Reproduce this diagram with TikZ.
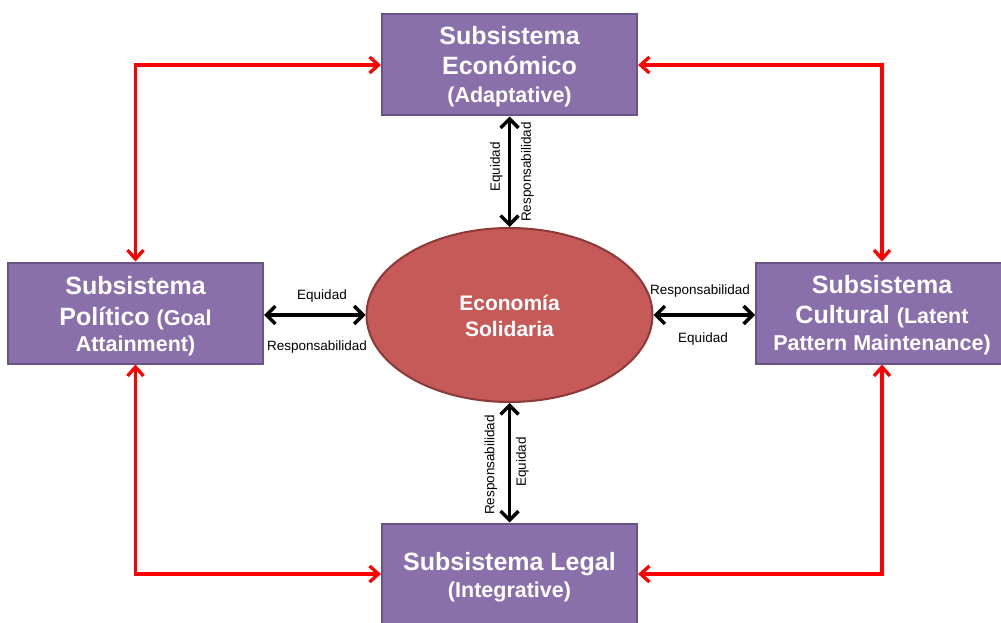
\documentclass[tikz,border=0pt]{standalone}
\usepackage{fontspec}
\setmainfont{Liberation Sans}
\usetikzlibrary{arrows.meta,shapes.geometric}
\definecolor{boxfill}{HTML}{8A70AA}
\definecolor{boxline}{HTML}{6A5386}
\definecolor{ellfill}{HTML}{C55A58}
\definecolor{ellline}{HTML}{8C3A38}
\definecolor{arrred}{HTML}{FF0000}
\begin{document}
\begin{tikzpicture}[x=1pt,y=-1pt,
  subbox/.style={draw=boxline, fill=boxfill, line width=2pt, minimum width=255pt, minimum height=101pt, inner sep=0pt},
  ellbox/.style={ellipse, draw=ellline, fill=ellfill, line width=2pt, minimum width=286pt, minimum height=174pt, inner sep=0pt},
  bigt/.style={text=white, font=\fontsize{25}{30}\selectfont\bfseries, anchor=base, inner sep=0pt},
  smallt/.style={text=white, font=\fontsize{21.5}{26}\selectfont\bfseries, anchor=base, inner sep=0pt},
  ellt/.style={text=white, font=\fontsize{21}{25}\selectfont\bfseries, anchor=base, inner sep=0pt},
  lbl/.style={font=\fontsize{13.5}{16}\selectfont, inner sep=0pt, anchor=base},
  vlbl/.style={font=\fontsize{13.5}{16}\selectfont, inner sep=0pt, anchor=center, rotate=90},
  blk/.style={draw=black, line width=3.5pt, {Straight Barb[length=9pt,width=18pt]}-{Straight Barb[length=9pt,width=18pt]}},
  redarr/.style={draw=arrred, line width=3.3pt, {Straight Barb[length=9pt,width=16pt]}-{Straight Barb[length=9pt,width=16pt]}}
]
\useasboundingbox (0,0) rectangle (1001,623);
\clip (0,0) rectangle (1001,623);

% boxes
\node[subbox] (eco) at (509.5,65) {};
\node[subbox] (pol) at (135.5,313) {};
\node[subbox, minimum width=252pt] (cul) at (882,313) {};
\node[subbox] (leg) at (509.5,574) {};
\node[ellbox] (eso) at (509.5,315) {};

% red connectors
\draw[redarr] (eco.west) -| (pol.north);
\draw[redarr] (eco.east) -| (cul.north);
\draw[redarr] (pol.south) |- (leg.west);
\draw[redarr] (cul.south) |- (leg.east);

% black connectors
\draw[blk] (eco.south) -- (eso.north);
\draw[blk] (eso.south) -- (leg.north);
\draw[blk] (pol.east |- eso.west) -- (eso.west);
\draw[blk] (eso.east) -- (cul.west |- eso.east);

% box texts
\node[bigt] (eco1) at (509.5,45) {Subsistema};
\node[bigt] (eco2) at (509.5,75) {Económico};
\node[smallt] (eco3) at (509.5,103) {(Adaptative)};

\node[bigt] (pol1) at (135.5,294) {Subsistema};
\node[bigt] (pol2) at (135.5,325) {Político {\fontsize{21.5}{26}\selectfont (Goal}};
\node[smallt] (pol3) at (135.5,351) {Attainment)};

\node[bigt] (cul1) at (882,293) {Subsistema};
\node[bigt] (cul2) at (882,323) {Cultural {\fontsize{21.5}{26}\selectfont (Latent}};
\node[smallt] (cul3) at (882,350) {Pattern Maintenance)};

\node[bigt] (leg1) at (509.5,570) {Subsistema Legal};
\node[smallt] (leg2) at (509.5,597) {(Integrative)};

\node[ellt] (eso1) at (509.5,310) {Economía};
\node[ellt] (eso2) at (509.5,336) {Solidaria};

% labels
\node[lbl] (l1) at (322,299) {Equidad};
\node[lbl] (l2) at (317,350) {Responsabilidad};
\node[lbl] (l3) at (700,294) {Responsabilidad};
\node[lbl] (l4) at (703,342) {Equidad};
\node[vlbl] (l5) at (496.5,167) {Equidad};
\node[vlbl] (l6) at (527.5,172) {Responsabilidad};
\node[vlbl] (l7) at (491,465) {Responsabilidad};
\node[vlbl] (l8) at (522.5,462) {Equidad};
\end{tikzpicture}
\end{document}
